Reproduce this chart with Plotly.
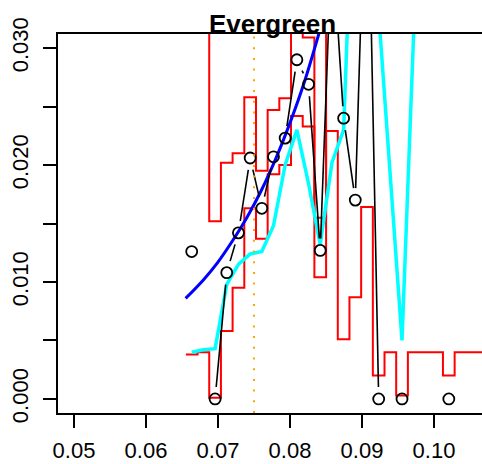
import math
import plotly.graph_objects as go

# Bin centres shared by the observed points, the interval bounds and the smooth
bin_x = [0.06635, 0.06797, 0.06960, 0.07122, 0.07284, 0.07447, 0.07609, 0.07771,
         0.07933, 0.08096, 0.08258, 0.08420, 0.08583, 0.08745, 0.08907, 0.09070,
         0.09232, 0.09394, 0.09556, 0.09719, 0.09881, 0.10043, 0.10206, 0.10368,
         0.10530, 0.10692]

# Observed rates (None = no observation in that bin)
observed = [0.0126, None, 0.0000, 0.0108, 0.0142, 0.0206, 0.0163, 0.0207, 0.0223,
            0.0290, 0.0269, 0.0127, 0.0396, 0.0240, 0.0170, 0.0500, 0.0000, None,
            0.0000, None, None, None, 0.0000]

# Upper and lower interval bounds per bin
upper_bound = [0.0400, 0.0400, 0.0152, 0.0202, 0.0210, 0.0258, 0.0195, 0.0247,
               0.0257, 0.0400, 0.0309, 0.0155, 0.0400]
lower_bound = [0.0038, 0.0040, 0.0001, 0.0058, 0.0095, 0.0163, 0.0137, 0.0192,
               0.0200, 0.0242, 0.0233, 0.0104, 0.0229, 0.0051, 0.0087, 0.0164,
               0.0020, 0.0040, 0.0003, 0.0040, 0.0040, 0.0040, 0.0020, 0.0040,
               0.0040, 0.0040]

# Running smooth of the observed rates
smooth = [0.0040, 0.0042, 0.0043, 0.0098, 0.0115, 0.0124, 0.0126, 0.0148, 0.0200,
          0.0230, 0.0184, 0.0132, 0.0202, 0.0230, 0.0500, 0.0600, 0.0330, 0.0188,
          0.0050, 0.0315, 0.0450]

# Fitted exponential trend
fit_x = [0.0655, 0.0680, 0.0700, 0.0720, 0.0740, 0.0760, 0.0780, 0.0800, 0.0820,
         0.0840, 0.0850]
fit_y = [0.0086, 0.0102, 0.0117, 0.0135, 0.0155, 0.0178, 0.0205, 0.0236, 0.0271,
         0.0312, 0.0334]

reference_x = 0.075

x_ticks = [0.05, 0.06, 0.07, 0.08, 0.09, 0.10]
x_tick_text = ["0.05", "0.06", "0.07", "0.08", "0.09", "0.10"]
y_ticks = [0.000, 0.005, 0.010, 0.015, 0.020, 0.025, 0.030]
y_tick_text = ["0.000", "", "0.010", "", "0.020", "", "0.030"]

W, H = 482, 464
M = dict(l=58, r=0, t=34, b=51)
X_RANGE = [0.04778, 0.10667]
Y_RANGE = [-0.0012, 0.0312]
FONT = "Liberation Sans, Arial, sans-serif"

# pixel scale of the plotting region, used to open gaps round the points
sx = (W - M["l"] - M["r"]) / (X_RANGE[1] - X_RANGE[0])
sy = (H - M["t"] - M["b"]) / (Y_RANGE[1] - Y_RANGE[0])
GAP_PX = 12


def gapped(xs, ys, gap):
    gx, gy = [], []
    for i in range(len(ys) - 1):
        y0, y1 = ys[i], ys[i + 1]
        if y0 is None or y1 is None:
            continue
        x0, x1 = xs[i], xs[i + 1]
        L = math.hypot((x1 - x0) * sx, (y1 - y0) * sy)
        if L <= 2 * gap:
            continue
        t0, t1 = gap / L, 1 - gap / L
        gx += [x0 + t0 * (x1 - x0), x0 + t1 * (x1 - x0), None]
        gy += [y0 + t0 * (y1 - y0), y0 + t1 * (y1 - y0), None]
    return gx, gy


def steps(centres, values):
    n = len(values)
    c = centres[:n]
    edges = [c[0] - (c[1] - c[0]) / 2]
    edges += [(c[i] + c[i + 1]) / 2 for i in range(n - 1)]
    edges += [c[-1] + (c[-1] - c[-2]) / 2]
    sxs, sys_ = [], []
    for i, v in enumerate(values):
        sxs += [edges[i], edges[i + 1]]
        sys_ += [v, v]
    return sxs, sys_


fig = go.Figure()

for bound in (upper_bound, lower_bound):
    bx, by = steps(bin_x, bound)
    fig.add_trace(go.Scatter(x=bx, y=by, mode="lines",
                             line=dict(color="#FF0000", width=2), hoverinfo="skip"))

fig.add_trace(go.Scatter(x=bin_x[:len(smooth)], y=smooth, mode="lines",
                         line=dict(color="#00FFFF", width=3.5)))

fig.add_trace(go.Scatter(x=fit_x, y=fit_y, mode="lines",
                         line=dict(color="#0000FF", width=3, shape="spline")))

lx, ly = gapped(bin_x, observed, GAP_PX)
fig.add_trace(go.Scatter(x=lx, y=ly, mode="lines",
                         line=dict(color="black", width=1.6)))
fig.add_trace(go.Scatter(x=bin_x[:len(observed)], y=observed, mode="markers",
                         marker=dict(symbol="circle-open", size=11, color="black",
                                     line=dict(width=1.8, color="black"))))

fig.add_shape(type="line", xref="x", yref="paper", x0=reference_x, x1=reference_x,
              y0=0, y1=1, line=dict(color="#FFA500", width=2, dash="2px,8.7px"))

fig.update_layout(
    width=W, height=H, margin=dict(M, autoexpand=False),
    paper_bgcolor="white", plot_bgcolor="white",
    showlegend=False,
    title=dict(text="<b>Evergreen</b>", x=272.5 / W, xanchor="center",
               xref="container", yref="container", y=1 - 24 / H, yanchor="middle",
               font=dict(family=FONT, size=26, color="black")),
    font=dict(family=FONT, color="black"),
)
fig.update_xaxes(range=X_RANGE, tickvals=x_ticks, ticktext=x_tick_text,
                 ticks="outside", ticklen=13, tickwidth=1.6, tickcolor="black",
                 showline=True, linewidth=1.8, linecolor="black", mirror=True,
                 showgrid=False, zeroline=False, tickfont=dict(size=22),
                 ticklabelstandoff=4, automargin=False)
fig.update_yaxes(range=Y_RANGE, tickvals=y_ticks, ticktext=y_tick_text,
                 tickangle=-90, ticks="outside", ticklen=13, tickwidth=1.6,
                 tickcolor="black", showline=True, linewidth=1.8, linecolor="black",
                 mirror=False, showgrid=False, zeroline=False, tickfont=dict(size=22),
                 ticklabelstandoff=6, automargin=False)

fig.write_html("out.html")
